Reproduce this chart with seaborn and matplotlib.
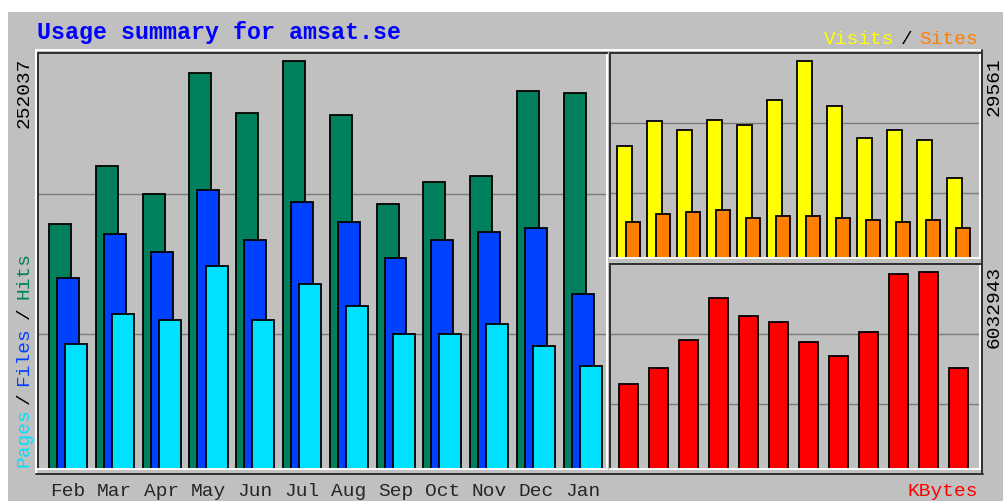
import numpy as np
import matplotlib
matplotlib.use("Agg")
import matplotlib.pyplot as plt
from matplotlib.lines import Line2D
from matplotlib.patches import Rectangle
import seaborn as sns

# Webalizer style monthly summary for amsat.se
months = ["Feb", "Mar", "Apr", "May", "Jun", "Jul", "Aug", "Sep", "Oct", "Nov", "Dec", "Jan"]
hits = [151400, 187400, 170000, 244600, 220000, 252037, 218400, 163800, 177400, 181200, 233400, 232200]
files = [117900, 145200, 133800, 172500, 141500, 165000, 152600, 130300, 141500, 146400, 148900, 108000]
pages = [76800, 95400, 91900, 125400, 91900, 114200, 100600, 83000, 83000, 89200, 75500, 63100]
visits = [16870, 20530, 19280, 20780, 19920, 23790, 29561, 22890, 18070, 19280, 17770, 12050]
sites = [5420, 6630, 6930, 7230, 6020, 6330, 6330, 6020, 5720, 5420, 5720, 4520]
kbytes = [2603000, 3093000, 3950000, 5237000, 4686000, 4511000, 3898000, 3460000, 4205000, 5972000, 6032943, 3093000]

W, H = 1004, 501
GRAY = "#C0C0C0"
MONO = "Liberation Mono"

sns.set_style("white")
plt.rcParams["font.family"] = [MONO, "DejaVu Sans Mono"]

fig = plt.figure(figsize=(W / 100, H / 100), dpi=100, facecolor="white")
fig.add_artist(Rectangle((8 / W, 0), 1, 1 - 12 / H, transform=fig.transFigure,
                         facecolor=GRAY, edgecolor="none", zorder=-10))


def fx(x):
    return x / W


def fy(y):
    return 1 - y / H


def make_ax(x0, x1, y0, y1):
    ax = fig.add_axes([fx(x0), fy(y1), (x1 - x0) / W, (y1 - y0) / H])
    ax.set_facecolor(GRAY)
    for s in ["left", "top"]:
        ax.spines[s].set_color("#303030")
        ax.spines[s].set_linewidth(1.4)
    for s in ["right", "bottom"]:
        ax.spines[s].set_color("white")
        ax.spines[s].set_linewidth(1.4)
    ax.set_axisbelow(True)
    ax.grid(axis="y", color="#7a7a7a", linewidth=1.0)
    ax.tick_params(left=False, bottom=False, labelleft=False, labelbottom=False)
    return ax


def bars(ax, pos, vals, color, width):
    sns.barplot(x=pos, y=vals, native_scale=True, orient="x", width=width,
                color=color, saturation=1, edgecolor="black", linewidth=1.3, ax=ax)


pos = np.arange(len(months))

# main panel: hits / files / pages
ax1 = make_ax(38, 607, 53, 468.5)
bars(ax1, pos - 0.17, hits, "#00805C", 0.47)
bars(ax1, pos + 0.0, files, "#0040FF", 0.47)
bars(ax1, pos + 0.175, pages, "#00E0FF", 0.47)
ax1.set_xlim(-0.64, 11.52)
ax1.set_ylim(0, 257000)
ax1.set_yticks([83000, 170000])
ax1.set_xticks(pos, months)
ax1.tick_params(labelbottom=True, pad=7, labelsize=14)
ax1.set_xlabel("")
ax1.set_ylabel("")

# visits / sites
ax2 = make_ax(609.5, 980, 53, 258)
bars(ax2, pos - 0.14, visits, "#FFFF00", 0.48)
bars(ax2, pos + 0.14, sites, "#FF8000", 0.48)
ax2.set_xlim(-0.64, 11.71)
ax2.set_ylim(0, 30800)
ax2.set_yticks([9700, 20300])
ax2.set_xlabel("")
ax2.set_ylabel("")

# kbytes
ax3 = make_ax(609.5, 980, 264, 469)
bars(ax3, pos, kbytes, "#FF0000", 0.62)
ax3.set_xlim(-0.64, 11.71)
ax3.set_ylim(0, 6272000)
ax3.set_yticks([1990000, 4143000])
ax3.set_xlabel("")
ax3.set_ylabel("")

# outer bevel
lw = 1.4
fig.add_artist(Line2D([fx(36), fx(982)], [fy(50), fy(50)], color="white", lw=lw))
fig.add_artist(Line2D([fx(36), fx(36)], [fy(50), fy(474)], color="white", lw=lw))
fig.add_artist(Line2D([fx(36), fx(983)], [fy(474), fy(474)], color="#303030", lw=lw))
fig.add_artist(Line2D([fx(982.5), fx(982.5)], [fy(50), fy(474)], color="#303030", lw=lw))

# texts
fig.text(fx(37), fy(39), "Usage summary for amsat.se", color="#0000FF",
         fontsize=16.75, fontweight="bold", va="baseline", ha="left")

fig.text(fx(978), fy(44), "Sites", color="#FF8000", fontsize=14, ha="right", va="baseline")
fig.text(fx(907), fy(44), "/", color="black", fontsize=14, ha="center", va="baseline")
fig.text(fx(894), fy(44), "Visits", color="#FFFF00", fontsize=14, ha="right", va="baseline")
fig.text(fx(978), fy(496), "KBytes", color="#FF0000", fontsize=14, ha="right", va="baseline")

fig.text(fx(24), fy(467), "Pages", color="#00E0FF", fontsize=14, rotation=90, ha="center", va="bottom")
fig.text(fx(24), fy(398), "/", color="black", fontsize=14, rotation=90, ha="center", va="center")
fig.text(fx(24), fy(357), "Files", color="#0040FF", fontsize=14, rotation=90, ha="center", va="center")
fig.text(fx(24), fy(313), "/", color="black", fontsize=14, rotation=90, ha="center", va="center")
fig.text(fx(24), fy(252), "Hits", color="#00805C", fontsize=14, rotation=90, ha="center", va="top")

fig.text(fx(24), fy(57), "252037", color="black", fontsize=14, rotation=90, ha="center", va="top")
fig.text(fx(994), fy(57), "29561", color="black", fontsize=14, rotation=90, ha="center", va="top")
fig.text(fx(994), fy(266), "6032943", color="black", fontsize=14, rotation=90, ha="center", va="top")

fig.savefig("out.png", dpi=100, facecolor="white")
